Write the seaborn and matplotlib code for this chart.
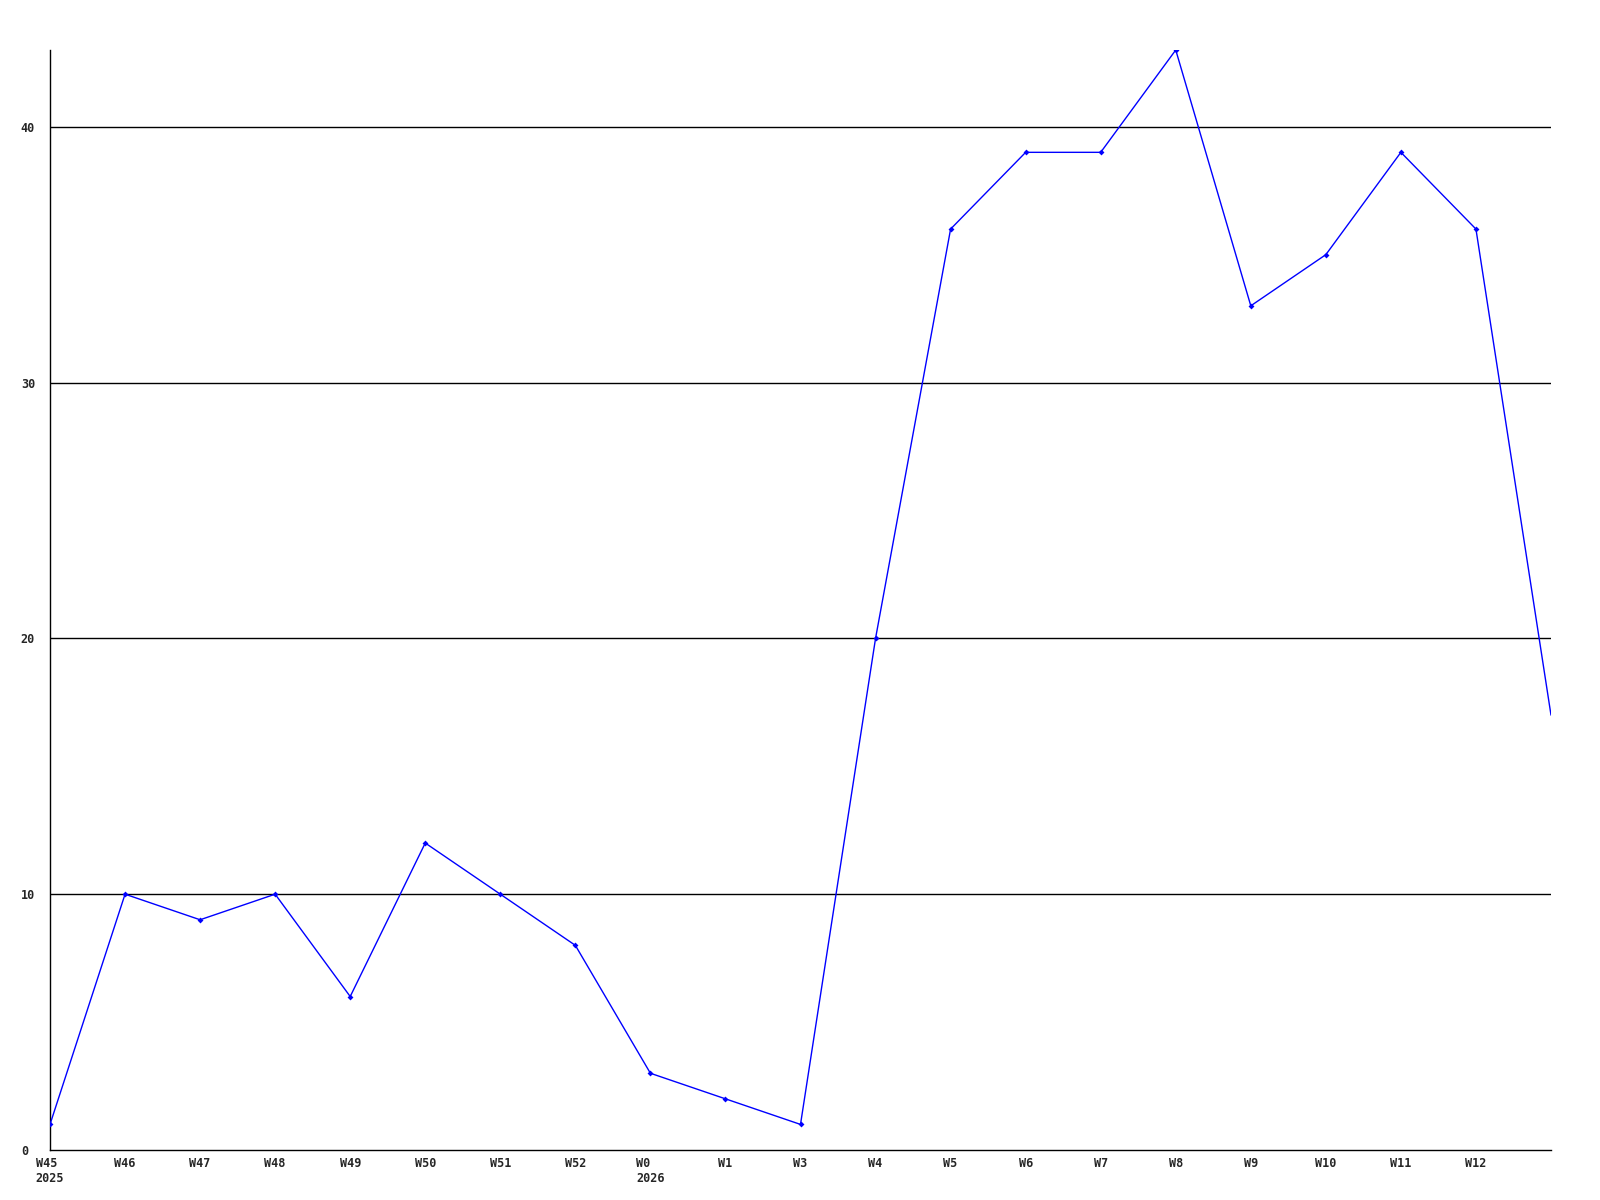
import matplotlib
matplotlib.use("Agg")
import matplotlib.pyplot as plt
import seaborn as sns
import pandas as pd

# weekly counts, the last week has no label
weeks = ["W45\n2025", "W46", "W47", "W48", "W49", "W50", "W51", "W52",
         "W0\n2026", "W1", "W3", "W4", "W5", "W6", "W7", "W8", "W9",
         "W10", "W11", "W12", ""]
counts = [1, 10, 9, 10, 6, 12, 10, 8, 3, 2, 1, 20, 36, 39, 39, 43, 33,
          35, 39, 36, 17]
y_ticks = [0, 10, 20, 30, 40]

df = pd.DataFrame({"pos": range(len(counts)), "count": counts})

sns.set_style("white")
plt.rcParams['font.family'] = ['DejaVu Sans Mono', 'DejaVu Sans']

fig = plt.figure(figsize=(16, 12), dpi=100)
ax = fig.add_axes([50 / 1600, 50 / 1200, 1501 / 1600, 1100 / 1200])

for y in y_ticks[1:]:
    ax.axhline(y, color="black", linewidth=1, zorder=1)

sns.lineplot(data=df, x="pos", y="count", ax=ax, color="#0000ff",
             linewidth=1, marker="D", markersize=3, markeredgewidth=0,
             markevery=list(range(len(counts) - 1)), zorder=3)

ax.set_xlim(0, len(counts) - 1)
ax.set_ylim(0, max(counts))
ax.set_xticks(range(len(weeks) - 1))
ax.set_xticklabels(weeks[:-1], fontsize=8.5, fontweight="bold",
                   multialignment="left")
ax.set_yticks(y_ticks)
ax.set_yticklabels([str(v) for v in y_ticks], fontsize=8.5, fontweight="bold",
                   ha="left")
ax.tick_params(axis="x", length=0, pad=5)
ax.tick_params(axis="y", length=0, pad=21)

ax.set_xlabel("")
ax.set_ylabel("")
for side in ["top", "right"]:
    ax.spines[side].set_visible(False)
for side in ["left", "bottom"]:
    ax.spines[side].set_color("black")
    ax.spines[side].set_linewidth(1)

fig.savefig("out.png", dpi=100, facecolor="white")
